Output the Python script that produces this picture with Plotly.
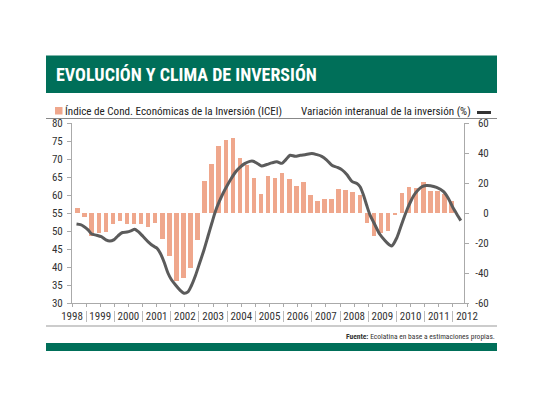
import plotly.graph_objects as go

# ---------------- data ----------------
bar_years = [1998]*4 + [1999]*4 + [2000]*4 + [2001]*4 + [2002]*4 + [2003]*4 + [2004]*4 + \
            [2005]*4 + [2006]*4 + [2007]*4 + [2008]*4 + [2009]*4 + [2010]*4 + [2011]*2
bar_quarters = [1, 2, 3, 4]*13 + [1, 2]
icei = [56.5, 53.8, 48.7, 49.4,
        49.6, 51.9, 52.8, 52.0,
        51.9, 51.9, 51.1, 52.3,
        47.7, 43.1, 36.2, 36.9,
        39.7, 47.4, 64.0, 68.6,
        73.5, 75.2, 75.8, 70.3,
        68.4, 64.7, 60.4, 65.3,
        64.7, 66.0, 64.4, 62.6,
        63.5, 59.9, 58.4, 59.0,
        59.0, 61.6, 61.3, 60.8,
        60.0, 52.2, 48.6, 49.5,
        50.1, 54.6, 60.6, 62.2,
        62.0, 63.6, 61.1, 61.2,
        60.2, 58.2]

line_t = [1998.16, 1998.30, 1998.42, 1998.57, 1998.70, 1998.87, 1999.04, 1999.20, 1999.34, 1999.48,
          1999.63, 1999.79, 1999.95, 2000.11, 2000.22, 2000.34, 2000.52, 2000.70, 2000.87, 2001.01,
          2001.13, 2001.27, 2001.40, 2001.52, 2001.67, 2001.82, 2001.97, 2002.11, 2002.23, 2002.38,
          2002.53, 2002.68, 2002.82, 2002.96, 2003.09, 2003.21, 2003.35, 2003.51, 2003.65, 2003.79,
          2003.95, 2004.12, 2004.30, 2004.42, 2004.60, 2004.72, 2004.90, 2005.08, 2005.26, 2005.44,
          2005.58, 2005.73, 2005.91, 2006.09, 2006.26, 2006.50, 2006.68, 2006.85, 2007.03, 2007.21,
          2007.39, 2007.56, 2007.74, 2007.92, 2008.10, 2008.21, 2008.33, 2008.45, 2008.56, 2008.70,
          2008.91, 2009.09, 2009.27, 2009.34, 2009.50, 2009.62, 2009.75, 2009.88, 2010.00, 2010.12,
          2010.25, 2010.40, 2010.55, 2010.70, 2010.92, 2011.16, 2011.33, 2011.51, 2011.69, 2011.78]
variacion = [-7.3, -7.8, -9.0, -11.2, -14.0, -14.8, -15.8, -17.9, -18.7, -17.9,
             -15.2, -13.0, -12.7, -11.7, -10.8, -12.3, -15.7, -19.2, -21.9, -23.4,
             -26.8, -33.0, -40.0, -44.3, -48.0, -51.3, -53.5, -52.6, -48.5, -41.5,
             -33.0, -24.5, -15.5, -6.5, 1.5, 7.2, 13.0, 18.7, 23.2, 27.2,
             30.4, 32.9, 34.4, 34.5, 32.7, 31.4, 32.3, 33.4, 34.1, 33.1,
             35.6, 38.5, 37.8, 38.5, 38.9, 39.6, 38.9, 37.8, 35.3, 31.8,
             30.5, 28.9, 25.6, 21.1, 19.6, 17.5, 12.0, 4.8, -1.2, -6.5,
             -14.2, -18.3, -21.5, -21.9, -17.0, -11.0, -4.0, 2.5, 7.5, 11.8,
             15.0, 17.5, 18.3, 18.2, 17.1, 14.4, 10.0, 3.3, -2.3, -5.1]

year_labels = [str(y) for y in range(1998, 2013)]
left_ticks = [30, 35, 40, 45, 50, 55, 60, 65, 70, 75, 80]
right_ticks = [-60, -40, -20, 0, 20, 40, 60]
ICEI_BASE = 55

title = "EVOLUCIÓN Y CLIMA DE INVERSIÓN"
legend_bar = "Índice de Cond. Económicas de la Inversión (ICEI)"
legend_line = "Variación interanual de la inversión (%)"
source = "<b>Fuente:</b> Ecolatina en base a estimaciones propias."

# ---------------- styling ----------------
FONT = "Liberation Sans Narrow, Roboto Condensed, Arial Narrow, Liberation Sans, sans-serif"
GREEN = "#006F59"
BAR = "#EFA78C"
LINE = "#5B5B5B"
AX = "#AAAAAA"
TXT = "#333333"

W, H = 540, 405
L, R, T, B = 72, 467, 123, 310   # paper box in pixels
PLOT_BOTTOM = 303                  # bottom of value area


def px(x):
    return (x - L) / (R - L)


def py(y):
    return (B - y) / (B - T)


ydom = [py(PLOT_BOTTOM), 1]

bar_x = [y + 0.25 * (q - 1) + 0.2 for y, q in zip(bar_years, bar_quarters)]
bar_h = [v - ICEI_BASE for v in icei]

fig = go.Figure()
fig.add_trace(go.Bar(x=bar_x, y=bar_h, base=ICEI_BASE, width=0.16,
                     marker=dict(color=BAR, line=dict(width=0)),
                     name=legend_bar, showlegend=False, xaxis="x", yaxis="y"))
fig.add_trace(go.Scatter(x=line_t, y=variacion, mode="lines",
                         line=dict(color=LINE, width=3, shape="spline", smoothing=0.8),
                         name=legend_line, showlegend=False, xaxis="x2", yaxis="y2"))

years = list(range(1998, 2013))
fig.update_layout(
    width=W, height=H,
    margin=dict(l=L, r=W - R, t=T, b=H - B, pad=0),
    paper_bgcolor="white", plot_bgcolor="white",
    font=dict(family=FONT, color=TXT, size=11),
    bargap=0,
    xaxis=dict(range=[1998, 2012], anchor="y", showline=True, linecolor=AX, linewidth=1,
               tickmode="array", tickvals=years, ticktext=year_labels, ticks="",
               ticklabelstandoff=3, tickfont=dict(size=11, color=TXT),
               showgrid=False, zeroline=False,
               minor=dict(tickmode="array", tickvals=[1998 + 0.5 * k for k in range(29)],
                          ticks="outside", ticklen=3, tickcolor=AX, showgrid=False)),
    xaxis2=dict(range=[1998, 2012], overlaying="x", anchor="free", position=0, side="bottom",
                tickmode="array", tickvals=[y + 0.5 for y in range(1998, 2012)],
                ticktext=[""] * 14, ticks="outside", ticklen=11, tickcolor="#BBBBBB",
                showline=False, showgrid=False, zeroline=False),
    yaxis=dict(range=[30, 80], domain=ydom, tickmode="array", tickvals=left_ticks,
               ticks="outside", ticklen=4, tickcolor=AX, showline=True, linecolor=AX,
               showgrid=False, zeroline=False, tickfont=dict(size=11, color=TXT),
               ticklabelstandoff=2),
    yaxis2=dict(range=[-60, 60], domain=ydom, overlaying="y", anchor="free", position=px(464),
                side="right", tickmode="array", tickvals=right_ticks,
                ticktext=["-60", "-40", "-20", "\u2007\u20080", "\u200820", "\u200840", "\u200860"],
                ticks="outside", ticklen=4, tickcolor=AX, showline=True, linecolor=AX,
                showgrid=False, zeroline=False, tickfont=dict(size=11, color=TXT),
                ticklabelstandoff=4),
)

shapes = [
    dict(type="rect", xref="paper", yref="paper", x0=px(46), x1=px(497), y0=py(93), y1=py(55.5),
         fillcolor=GREEN, line=dict(width=0), layer="below"),
    dict(type="line", xref="paper", yref="paper", x0=px(46), x1=px(497), y0=py(118.5), y1=py(118.5),
         line=dict(color="#888888", width=1)),
    dict(type="rect", xref="paper", yref="paper", x0=px(55), x1=px(62.5), y0=py(114.5), y1=py(107),
         fillcolor=BAR, line=dict(width=0)),
    dict(type="line", xref="paper", yref="paper", x0=px(477), x1=px(491), y0=py(112.5), y1=py(112.5),
         line=dict(color="#333333", width=3)),
    dict(type="line", xref="paper", yref="paper", x0=px(46), x1=px(497), y0=py(326), y1=py(326),
         line=dict(color="#999999", width=1)),
    dict(type="rect", xref="paper", yref="paper", x0=px(46), x1=px(497), y0=py(351), y1=py(343),
         fillcolor=GREEN, line=dict(width=0)),
]

annotations = [
    dict(text="<b>" + title + "</b>", xref="paper", yref="paper", x=px(54), y=py(74.5),
         xanchor="left", yanchor="middle", showarrow=False,
         font=dict(size=18, color="white", family=FONT)),
    dict(text=legend_bar, xref="paper", yref="paper", x=px(63), y=py(111),
         xanchor="left", yanchor="middle", showarrow=False,
         font=dict(size=11.1, color="#222222", family=FONT)),
    dict(text=legend_line, xref="paper", yref="paper", x=px(473), y=py(111),
         xanchor="right", yanchor="middle", showarrow=False,
         font=dict(size=11.1, color="#222222", family=FONT)),
    dict(text=source, xref="paper", yref="paper", x=px(497), y=py(336),
         xanchor="right", yanchor="middle", showarrow=False,
         font=dict(size=7.5, color="#333333", family=FONT)),
]

fig.update_layout(shapes=shapes, annotations=annotations)
fig.write_html("out.html", config={"displayModeBar": False},
               post_script="document.body.style.margin='0';")
